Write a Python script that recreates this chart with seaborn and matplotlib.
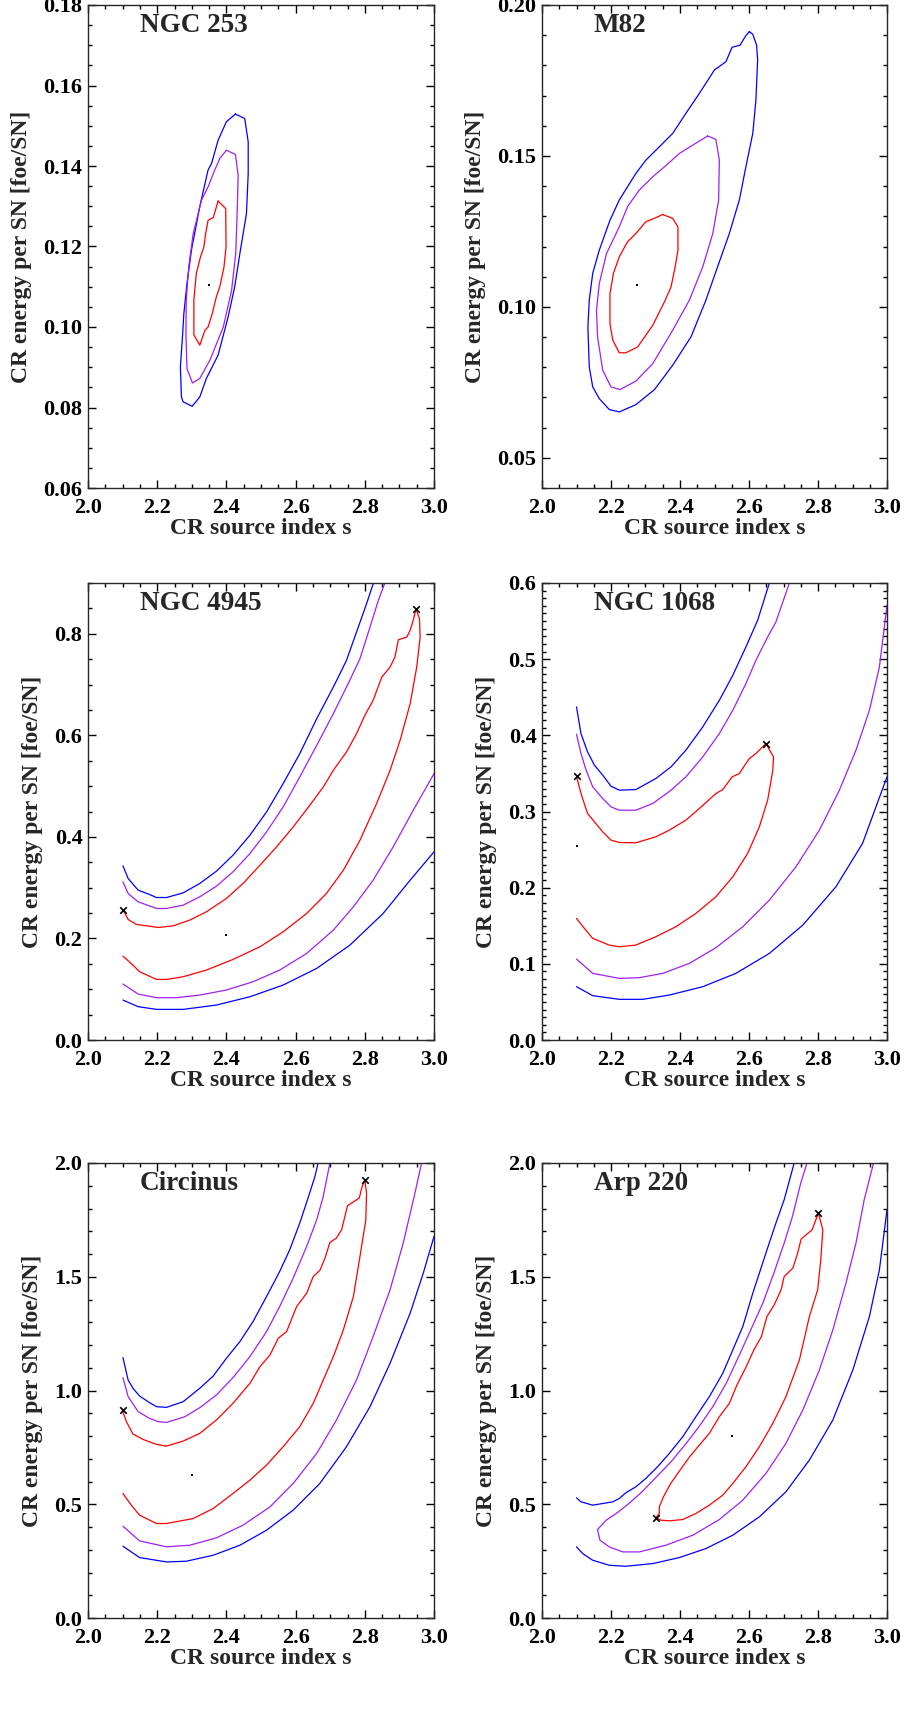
import matplotlib
matplotlib.use("Agg")
import matplotlib.pyplot as plt
from matplotlib.ticker import MultipleLocator, FormatStrFormatter
import seaborn as sns
import pandas as pd

# contour lines: (s, CR energy) pairs
NGC253_BLUE = [(2.426, 0.1529), (2.453, 0.1518), (2.463, 0.1460), (2.463, 0.1381), (2.458, 0.1282),
               (2.439, 0.1183), (2.424, 0.1100), (2.405, 0.1025), (2.376, 0.0930), (2.342, 0.0872),
               (2.323, 0.0826), (2.301, 0.0803), (2.275, 0.0814), (2.270, 0.0826), (2.267, 0.0901),
               (2.273, 0.0975), (2.277, 0.1033), (2.286, 0.1108), (2.299, 0.1191), (2.323, 0.1299),
               (2.347, 0.1390), (2.357, 0.1406), (2.376, 0.1464), (2.400, 0.1510)]
NGC253_PURPLE = [(2.400, 0.1439), (2.426, 0.1429), (2.434, 0.1377), (2.431, 0.1282), (2.427, 0.1183),
                 (2.415, 0.1091), (2.391, 0.1000), (2.352, 0.0917), (2.323, 0.0872), (2.302, 0.0861),
                 (2.286, 0.0897), (2.283, 0.0984), (2.284, 0.1067), (2.291, 0.1149), (2.304, 0.1232),
                 (2.328, 0.1315), (2.347, 0.1348), (2.362, 0.1381), (2.381, 0.1419)]
NGC253_RED = [(2.376, 0.1313), (2.398, 0.1294), (2.399, 0.1199), (2.393, 0.1149), (2.381, 0.1100),
              (2.371, 0.1075), (2.359, 0.1033), (2.347, 0.1000), (2.338, 0.0992), (2.323, 0.0955),
              (2.306, 0.0980), (2.306, 0.1067), (2.313, 0.1133), (2.325, 0.1174), (2.335, 0.1199),
              (2.340, 0.1232), (2.347, 0.1265), (2.362, 0.1272)]
NGC253_BEST = [(2.350, 0.1104)]

M82_BLUE = [(2.601, 0.1912), (2.611, 0.1903), (2.622, 0.1867), (2.625, 0.1818), (2.620, 0.1685),
            (2.611, 0.1575), (2.591, 0.1464), (2.572, 0.1354), (2.543, 0.1243), (2.509, 0.1133),
            (2.475, 0.1022), (2.432, 0.0901), (2.379, 0.0807), (2.326, 0.0726), (2.272, 0.0676),
            (2.224, 0.0652), (2.195, 0.0660), (2.166, 0.0696), (2.147, 0.0735), (2.137, 0.0801),
            (2.133, 0.0934), (2.137, 0.1022), (2.147, 0.1111), (2.166, 0.1188), (2.197, 0.1287),
            (2.224, 0.1354), (2.248, 0.1398), (2.272, 0.1442), (2.301, 0.1486), (2.340, 0.1530),
            (2.379, 0.1575), (2.417, 0.1641), (2.456, 0.1707), (2.500, 0.1785), (2.533, 0.1812),
            (2.551, 0.1860), (2.574, 0.1867), (2.590, 0.1897)]
M82_PURPLE = [(2.480, 0.1566), (2.504, 0.1555), (2.514, 0.1486), (2.512, 0.1354), (2.495, 0.1243),
              (2.466, 0.1133), (2.427, 0.1022), (2.379, 0.0923), (2.321, 0.0812), (2.272, 0.0754),
              (2.226, 0.0726), (2.200, 0.0735), (2.176, 0.0790), (2.161, 0.0901), (2.158, 0.0989),
              (2.166, 0.1077), (2.187, 0.1177), (2.224, 0.1265), (2.248, 0.1332), (2.282, 0.1387),
              (2.321, 0.1431), (2.355, 0.1464), (2.398, 0.1508), (2.437, 0.1536)]
M82_RED = [(2.350, 0.1306), (2.379, 0.1293), (2.394, 0.1265), (2.394, 0.1188), (2.386, 0.1133),
           (2.374, 0.1066), (2.355, 0.1017), (2.321, 0.0939), (2.277, 0.0867), (2.243, 0.0848),
           (2.224, 0.0848), (2.205, 0.0890), (2.197, 0.0945), (2.197, 0.1044), (2.207, 0.1111),
           (2.224, 0.1166), (2.248, 0.1216), (2.272, 0.1243), (2.301, 0.1282), (2.325, 0.1293)]
M82_BEST = [(2.275, 0.1072)]

N4945_BLUE_UP = [(2.101, 0.3429), (2.116, 0.3180), (2.145, 0.2951), (2.178, 0.2865), (2.198, 0.2806),
                 (2.227, 0.2806), (2.275, 0.2898), (2.323, 0.3082), (2.371, 0.3324), (2.419, 0.3639),
                 (2.468, 0.4033), (2.516, 0.4492), (2.564, 0.5049), (2.612, 0.5639), (2.661, 0.6328),
                 (2.709, 0.6950), (2.747, 0.7475), (2.776, 0.8032), (2.805, 0.8590), (2.825, 0.9000)]
N4945_PURPLE_UP = [(2.101, 0.3115), (2.116, 0.2885), (2.145, 0.2721), (2.198, 0.2590), (2.227, 0.2590),
                   (2.275, 0.2656), (2.323, 0.2820), (2.371, 0.3029), (2.419, 0.3311), (2.468, 0.3672),
                   (2.516, 0.4098), (2.564, 0.4590), (2.612, 0.5180), (2.661, 0.5803), (2.709, 0.6426),
                   (2.747, 0.6950), (2.786, 0.7508), (2.815, 0.8131), (2.839, 0.8655), (2.858, 0.9000)]
N4945_RED = [(2.101, 0.2570), (2.116, 0.2374), (2.140, 0.2275), (2.169, 0.2249), (2.203, 0.2216),
             (2.246, 0.2249), (2.294, 0.2361), (2.342, 0.2524), (2.400, 0.2787), (2.448, 0.3082),
             (2.497, 0.3442), (2.545, 0.3803), (2.593, 0.4196), (2.641, 0.4623), (2.680, 0.4983),
             (2.709, 0.5311), (2.747, 0.5672), (2.776, 0.6032), (2.800, 0.6393), (2.824, 0.6688),
             (2.849, 0.7147), (2.873, 0.7344), (2.887, 0.7541), (2.897, 0.7882), (2.921, 0.7934),
             (2.931, 0.8065), (2.941, 0.8295), (2.948, 0.8491), (2.958, 0.8295), (2.960, 0.7934),
             (2.950, 0.7344), (2.931, 0.6623), (2.902, 0.5901), (2.873, 0.5311), (2.834, 0.4655),
             (2.786, 0.3934), (2.738, 0.3344), (2.689, 0.2885), (2.632, 0.2492), (2.564, 0.2131),
             (2.497, 0.1836), (2.419, 0.1587), (2.342, 0.1377), (2.275, 0.1246), (2.227, 0.1193),
             (2.198, 0.1193), (2.149, 0.1344), (2.130, 0.1475), (2.101, 0.1652)]
N4945_PURPLE_LO = [(2.101, 0.1102), (2.145, 0.0905), (2.198, 0.0833), (2.256, 0.0833), (2.323, 0.0885),
                   (2.400, 0.0984), (2.477, 0.1147), (2.554, 0.1377), (2.632, 0.1705), (2.709, 0.2164),
                   (2.767, 0.2623), (2.824, 0.3147), (2.882, 0.3803), (2.940, 0.4524), (3.000, 0.5246)]
N4945_BLUE_LO = [(2.101, 0.0787), (2.145, 0.0656), (2.198, 0.0603), (2.275, 0.0603), (2.371, 0.0688),
                 (2.468, 0.0852), (2.564, 0.1082), (2.661, 0.1410), (2.757, 0.1869), (2.853, 0.2492),
                 (2.931, 0.3147), (3.000, 0.3705)]
N4945_CROSS = [(2.10, 0.257), (2.948, 0.849)]
N4945_BEST = [(2.40, 0.2065)]

N1068_BLUE_UP = [(2.100, 0.4373), (2.113, 0.4023), (2.132, 0.3783), (2.152, 0.3608), (2.176, 0.3477),
                 (2.200, 0.3332), (2.224, 0.3280), (2.272, 0.3288), (2.330, 0.3433), (2.374, 0.3586),
                 (2.417, 0.3805), (2.466, 0.4111), (2.514, 0.4460), (2.553, 0.4788), (2.591, 0.5160),
                 (2.625, 0.5510), (2.659, 0.6000)]
N1068_PURPLE_UP = [(2.100, 0.4014), (2.113, 0.3761), (2.128, 0.3542), (2.147, 0.3323), (2.176, 0.3170),
                   (2.200, 0.3061), (2.224, 0.3017), (2.272, 0.3017), (2.321, 0.3105), (2.374, 0.3280),
                   (2.417, 0.3455), (2.466, 0.3717), (2.514, 0.4023), (2.553, 0.4329), (2.591, 0.4679),
                   (2.620, 0.4985), (2.654, 0.5291), (2.678, 0.5488), (2.717, 0.6000)]
N1068_RED = [(2.100, 0.3463), (2.113, 0.3236), (2.132, 0.2974), (2.152, 0.2864), (2.176, 0.2733),
             (2.200, 0.2624), (2.224, 0.2593), (2.272, 0.2589), (2.330, 0.2668), (2.369, 0.2755),
             (2.417, 0.2886), (2.456, 0.3039), (2.504, 0.3236), (2.524, 0.3288), (2.551, 0.3455),
             (2.572, 0.3498), (2.591, 0.3630), (2.601, 0.3695), (2.620, 0.3761), (2.649, 0.3892),
             (2.671, 0.3717), (2.669, 0.3542), (2.654, 0.3149), (2.630, 0.2799), (2.596, 0.2449),
             (2.553, 0.2143), (2.504, 0.1880), (2.446, 0.1662), (2.388, 0.1487), (2.330, 0.1356),
             (2.272, 0.1246), (2.224, 0.1224), (2.195, 0.1246), (2.147, 0.1334), (2.123, 0.1465),
             (2.100, 0.1596)]
N1068_PURPLE_LO = [(2.100, 0.1063), (2.147, 0.0875), (2.224, 0.0809), (2.282, 0.0818), (2.350, 0.0875),
                   (2.427, 0.1006), (2.504, 0.1211), (2.582, 0.1487), (2.659, 0.1837), (2.736, 0.2274),
                   (2.804, 0.2755), (2.862, 0.3280), (2.910, 0.3805), (2.949, 0.4329), (2.978, 0.4898),
                   (3.000, 0.5707)]
N1068_BLUE_LO = [(2.100, 0.0700), (2.147, 0.0582), (2.224, 0.0534), (2.292, 0.0534), (2.369, 0.0590),
                 (2.466, 0.0700), (2.562, 0.0875), (2.659, 0.1137), (2.756, 0.1509), (2.852, 0.2012),
                 (2.929, 0.2580), (3.000, 0.3455)]
N1068_CROSS = [(2.10, 0.346), (2.649, 0.389)]
N1068_BEST = [(2.10, 0.2545)]

CIRC_BLUE_UP = [(2.101, 1.1446), (2.116, 1.0463), (2.130, 1.0096), (2.149, 0.9758), (2.178, 0.9465),
                (2.198, 0.9289), (2.227, 0.9259), (2.275, 0.9509), (2.323, 1.0096), (2.362, 1.0639),
                (2.400, 1.1416), (2.439, 1.2150), (2.477, 1.3030), (2.516, 1.4131), (2.554, 1.5232),
                (2.583, 1.6185), (2.612, 1.7359), (2.636, 1.8460), (2.656, 1.9414), (2.665, 2.0000)]
CIRC_PURPLE_UP = [(2.101, 1.0565), (2.116, 0.9729), (2.145, 0.9069), (2.178, 0.8775), (2.203, 0.8628),
                  (2.227, 0.8599), (2.280, 0.8848), (2.323, 0.9245), (2.371, 0.9802), (2.419, 1.0565),
                  (2.468, 1.1490), (2.516, 1.2590), (2.554, 1.3691), (2.593, 1.4938), (2.632, 1.6332),
                  (2.661, 1.7506), (2.680, 1.8533), (2.699, 2.0000)]
CIRC_RED = [(2.099, 0.9142), (2.111, 0.8628), (2.130, 0.8085), (2.159, 0.7850), (2.198, 0.7630),
            (2.227, 0.7557), (2.275, 0.7777), (2.323, 0.8115), (2.371, 0.8702), (2.419, 0.9435),
            (2.468, 1.0316), (2.497, 1.1049), (2.526, 1.1563), (2.550, 1.2297), (2.574, 1.2590),
            (2.603, 1.3691), (2.632, 1.4278), (2.651, 1.5011), (2.670, 1.5276), (2.685, 1.5818),
            (2.699, 1.6508), (2.718, 1.6699), (2.733, 1.7066), (2.750, 1.8122), (2.784, 1.8460),
            (2.791, 1.8900), (2.800, 1.9267), (2.805, 1.8680), (2.803, 1.7506), (2.786, 1.5892),
            (2.767, 1.4131), (2.738, 1.2664), (2.709, 1.1490), (2.680, 1.0463), (2.651, 0.9435),
            (2.612, 0.8408), (2.564, 0.7528), (2.516, 0.6721), (2.468, 0.6060), (2.419, 0.5473),
            (2.362, 0.4813), (2.304, 0.4373), (2.227, 0.4153), (2.198, 0.4153), (2.149, 0.4520),
            (2.125, 0.4960), (2.101, 0.5473)]
CIRC_PURPLE_LO = [(2.101, 0.4035), (2.149, 0.3390), (2.227, 0.3126), (2.294, 0.3199), (2.371, 0.3522),
                  (2.448, 0.4079), (2.526, 0.4886), (2.593, 0.5914), (2.661, 0.7234), (2.718, 0.8702),
                  (2.776, 1.0463), (2.824, 1.2370), (2.873, 1.4424), (2.911, 1.6479), (2.945, 1.8680),
                  (2.964, 2.0000)]
CIRC_BLUE_LO = [(2.101, 0.3155), (2.149, 0.2656), (2.227, 0.2465), (2.284, 0.2495), (2.362, 0.2759),
                (2.439, 0.3199), (2.516, 0.3859), (2.593, 0.4740), (2.670, 0.5914), (2.747, 0.7528),
                (2.815, 0.9289), (2.873, 1.1196), (2.931, 1.3397), (2.969, 1.5158), (3.000, 1.6772)]
CIRC_CROSS = [(2.10, 0.914), (2.80, 1.927)]
CIRC_BEST = [(2.302, 0.628)]

ARP_BLUE_UP = [(2.100, 0.5283), (2.113, 0.5107), (2.147, 0.4960), (2.176, 0.5033), (2.205, 0.5107),
               (2.224, 0.5253), (2.243, 0.5503), (2.272, 0.5767), (2.301, 0.6134), (2.335, 0.6647),
               (2.369, 0.7234), (2.408, 0.7968), (2.446, 0.8848), (2.485, 0.9729), (2.524, 1.0756),
               (2.553, 1.1783), (2.582, 1.2810), (2.611, 1.4278), (2.649, 1.6039), (2.678, 1.7359),
               (2.702, 1.8387), (2.731, 2.0000)]
ARP_PURPLE = [(2.768, 2.0000), (2.750, 1.9120), (2.726, 1.7653), (2.702, 1.6479), (2.672, 1.5158),
              (2.640, 1.3838), (2.605, 1.2664), (2.570, 1.1490), (2.534, 1.0316), (2.495, 0.9289),
              (2.455, 0.8408), (2.414, 0.7601), (2.374, 0.6867), (2.332, 0.6207), (2.290, 0.5547),
              (2.252, 0.5033), (2.215, 0.4593), (2.186, 0.4300), (2.161, 0.3889), (2.168, 0.3419),
              (2.195, 0.3126), (2.234, 0.2905), (2.282, 0.2905), (2.359, 0.3199), (2.437, 0.3639),
              (2.514, 0.4329), (2.582, 0.5180), (2.649, 0.6354), (2.707, 0.7675), (2.756, 0.9142),
              (2.804, 1.0903), (2.843, 1.2664), (2.881, 1.4718), (2.910, 1.6479), (2.934, 1.8387),
              (2.961, 2.0000)]
ARP_RED = [(2.330, 0.4402), (2.345, 0.4300), (2.369, 0.4270), (2.408, 0.4329), (2.446, 0.4593),
           (2.485, 0.4960), (2.524, 0.5400), (2.553, 0.5914), (2.591, 0.6647), (2.630, 0.7528),
           (2.669, 0.8555), (2.707, 0.9729), (2.746, 1.1343), (2.775, 1.3251), (2.799, 1.4424),
           (2.808, 1.5745), (2.814, 1.7066), (2.801, 1.7800), (2.783, 1.7066), (2.751, 1.6655),
           (2.741, 1.6039), (2.727, 1.5378), (2.702, 1.5011), (2.693, 1.4424), (2.673, 1.3764),
           (2.652, 1.3251), (2.636, 1.2370), (2.614, 1.1783), (2.592, 1.1049), (2.565, 1.0242),
           (2.543, 0.9435), (2.514, 0.8848), (2.485, 0.8115), (2.456, 0.7601), (2.428, 0.7088),
           (2.400, 0.6501), (2.373, 0.5914), (2.352, 0.5327), (2.340, 0.4886), (2.340, 0.4593)]
ARP_BLUE_LO = [(2.100, 0.3126), (2.118, 0.2832), (2.147, 0.2539), (2.195, 0.2318), (2.243, 0.2274),
               (2.321, 0.2392), (2.398, 0.2656), (2.475, 0.3052), (2.553, 0.3639), (2.630, 0.4446),
               (2.707, 0.5547), (2.775, 0.6941), (2.843, 0.8702), (2.901, 1.0903), (2.949, 1.3251),
               (2.978, 1.5305), (3.000, 1.7947)]
ARP_CROSS = [(2.33, 0.44), (2.80, 1.78)]
ARP_BEST = [(2.551, 0.7997)]

NAMES = ["NGC 253", "M82", "NGC 4945", "NGC 1068", "Circinus", "Arp 220"]
YLIMS = [(0.06, 0.18), (0.04, 0.20), (0.0, 0.9), (0.0, 0.6), (0.0, 2.0), (0.0, 2.0)]
YMAJOR = [0.02, 0.05, 0.2, 0.1, 0.5, 0.5]
YMINOR = [0.005, 0.01, 0.05, 0.01, 0.1, 0.1]
YFMT = ["%.2f", "%.2f", "%.1f", "%.1f", "%.1f", "%.1f"]

BLUE, PURPLE, RED = "#0000ff", "#a020f0", "#ff0000"

# (open lines, closed lines, crosses, best fit) per panel
panels = [
    ([], [(NGC253_BLUE, BLUE), (NGC253_PURPLE, PURPLE), (NGC253_RED, RED)], [], NGC253_BEST),
    ([], [(M82_BLUE, BLUE), (M82_PURPLE, PURPLE), (M82_RED, RED)], [], M82_BEST),
    ([(N4945_BLUE_UP, BLUE), (N4945_PURPLE_UP, PURPLE), (N4945_RED, RED),
      (N4945_PURPLE_LO, PURPLE), (N4945_BLUE_LO, BLUE)], [], N4945_CROSS, N4945_BEST),
    ([(N1068_BLUE_UP, BLUE), (N1068_PURPLE_UP, PURPLE), (N1068_RED, RED),
      (N1068_PURPLE_LO, PURPLE), (N1068_BLUE_LO, BLUE)], [], N1068_CROSS, N1068_BEST),
    ([(CIRC_BLUE_UP, BLUE), (CIRC_PURPLE_UP, PURPLE), (CIRC_RED, RED),
      (CIRC_PURPLE_LO, PURPLE), (CIRC_BLUE_LO, BLUE)], [], CIRC_CROSS, CIRC_BEST),
    ([(ARP_BLUE_UP, BLUE), (ARP_PURPLE, PURPLE), (ARP_BLUE_LO, BLUE)], [(ARP_RED, RED)],
     ARP_CROSS, ARP_BEST),
]

sns.set_style("ticks")
plt.rcParams["font.family"] = ["Liberation Serif", "DejaVu Serif"]
plt.rcParams["font.weight"] = "bold"
plt.rcParams["axes.labelweight"] = "bold"
plt.rcParams["axes.linewidth"] = 1.0

fig = plt.figure(figsize=(9.06, 17.13), dpi=100)
W, H = 906.0, 1713.0
cols = [(88, 434), (542, 887)]
rows = [(5, 488), (583, 1040), (1163, 1618)]


def to_df(pts):
    return pd.DataFrame(pts, columns=["s", "E"])


for i, (opened, closed, crosses, best) in enumerate(panels):
    r, c = divmod(i, 2)
    (x0, x1), (y0, y1) = cols[c], rows[r]
    ax = fig.add_axes([x0 / W, 1 - y1 / H, (x1 - x0) / W, (y1 - y0) / H])

    for pts, col in opened:
        d = to_df(pts)
        sns.lineplot(data=d, x="s", y="E", sort=False, estimator=None, color=col, lw=0.9, ax=ax)
    for pts, col in closed:
        d = to_df(pts + pts[:1])
        sns.lineplot(data=d, x="s", y="E", sort=False, estimator=None, color=col, lw=0.9, ax=ax)
    if crosses:
        sns.scatterplot(data=to_df(crosses), x="s", y="E", marker="x", color="black",
                        s=22, linewidth=1.2, ax=ax, zorder=5)
    sns.scatterplot(data=to_df(best), x="s", y="E", marker="s", color="black",
                    s=2, linewidth=0, ax=ax, zorder=5)

    ax.set_xlim(2.0, 3.0)
    ax.set_ylim(*YLIMS[i])
    ax.xaxis.set_major_locator(MultipleLocator(0.2))
    ax.xaxis.set_minor_locator(MultipleLocator(0.05))
    ax.yaxis.set_major_locator(MultipleLocator(YMAJOR[i]))
    ax.yaxis.set_minor_locator(MultipleLocator(YMINOR[i]))
    ax.xaxis.set_major_formatter(FormatStrFormatter("%.1f"))
    ax.yaxis.set_major_formatter(FormatStrFormatter(YFMT[i]))
    ax.tick_params(which="both", direction="in", top=True, right=True, width=1.0, colors="black")
    ax.tick_params(which="major", length=6)
    ax.tick_params(which="minor", length=3)
    ax.tick_params(axis="x", which="major", labelsize=16, pad=7)
    ax.tick_params(axis="y", which="major", labelsize=16, pad=4)
    for lab in ax.get_xticklabels() + ax.get_yticklabels():
        lab.set_fontweight("bold")

    ax.set_xlabel("CR source index s", fontsize=17, fontweight="bold", labelpad=0)
    ax.set_ylabel("CR energy per SN [foe/SN]", fontsize=17, fontweight="bold", labelpad=8)
    ax.text(0.15, 1 - 20 / (y1 - y0), NAMES[i], transform=ax.transAxes, fontsize=19.5,
            fontweight="bold", va="center", ha="left")

fig.savefig("out.png", dpi=100)
